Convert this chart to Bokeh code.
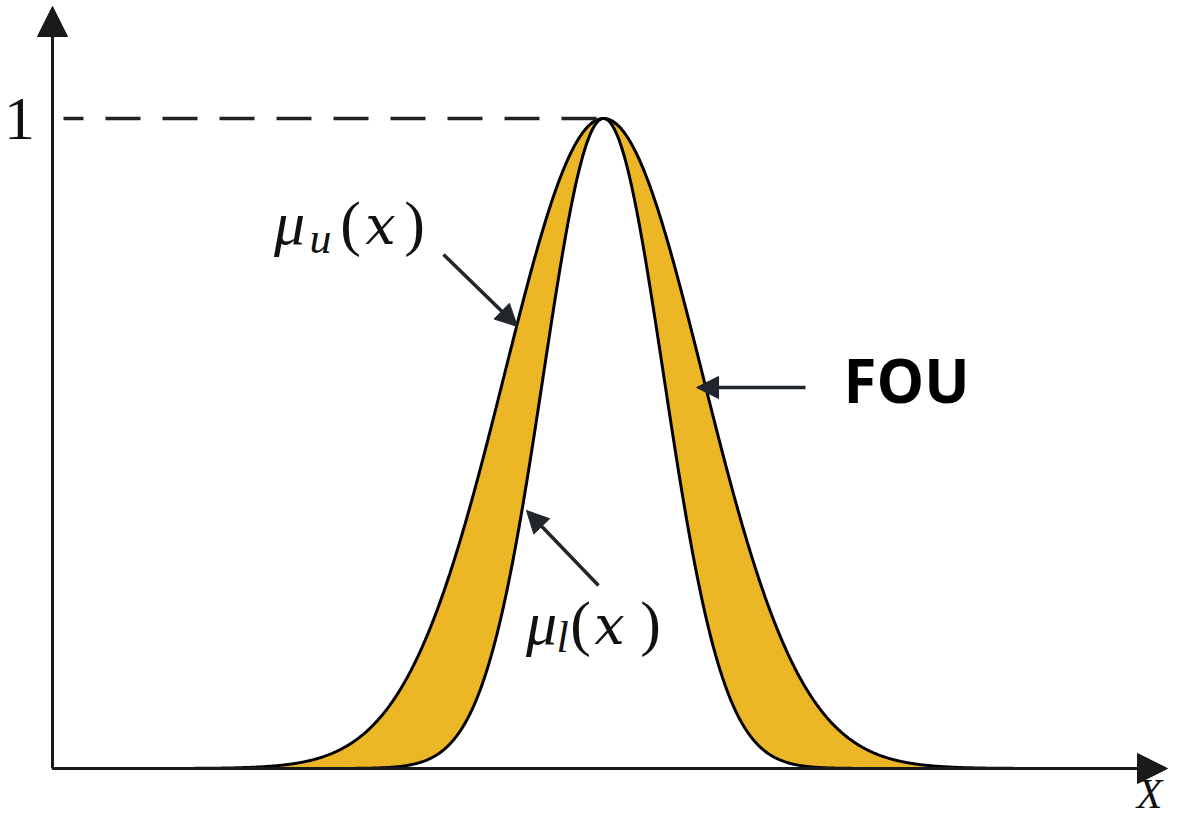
import numpy as np
from bokeh.plotting import figure
from bokeh.models import Range1d, Arrow, NormalHead, Label, ColumnDataSource
from bokeh.embed import file_html
from bokeh.resources import INLINE

# ---- chart values (Gaussian type-2 fuzzy membership functions) ----
MEAN = 5.51           # centre of both membership functions
SIGMA_UPPER = 0.99    # spread of the upper MF  mu_u(x)
SIGMA_LOWER = 0.60    # spread of the lower MF  mu_l(x)
PEAK = 1.0            # membership grade at the centre
X_END = 11.15         # end of the X axis
Y_TICK_VALUES = [1.0]
Y_TICK_LABELS = ["1"]
X_AXIS_LABEL = "X"
FOU_LABEL = "FOU"

# sampling of the domain
xs = np.linspace(0.0, X_END - 0.35, 1600)
upper = PEAK * np.exp(-((xs - MEAN) ** 2) / (2 * SIGMA_UPPER ** 2))
lower = PEAK * np.exp(-((xs - MEAN) ** 2) / (2 * SIGMA_LOWER ** 2))
src = ColumnDataSource(dict(x=xs, upper=upper, lower=lower))

# helpers: convert layout positions (pixels from top-left) to data units
def px(xr):
    return (xr - 52) / 100.0

def py(yr):
    return (768 - yr) / 650.0

W, H = 1169, 819
p = figure(width=W, height=H,
           x_range=Range1d(px(0), px(W)),
           y_range=Range1d(py(H), py(0)),
           output_backend="svg", toolbar_location=None,
           x_axis_location=None, y_axis_location=None,
           min_border=0, outline_line_color=None)
p.grid.visible = False
p.background_fill_color = "white"
p.border_fill_color = "white"

# footprint of uncertainty
p.varea(x="x", y1="lower", y2="upper", source=src,
        fill_color="#EAB31E", hatch_pattern="/", hatch_color="#F4C74A",
        hatch_alpha=0.35, hatch_scale=7, hatch_weight=1.5)
p.line(x="x", y="upper", source=src, line_color="black", line_width=3)
p.line(x="x", y="lower", source=src, line_color="black", line_width=3)

# dashed guide at membership 1
p.line(x=[px(63), MEAN], y=[Y_TICK_VALUES[0], Y_TICK_VALUES[0]],
       line_color="#222222", line_width=3.5, line_dash="35 22",
       line_dash_offset=15)

# axes as arrows
AX = "#1a1a1a"
p.add_layout(Arrow(end=NormalHead(size=30, fill_color=AX, line_color=AX),
                   x_start=0, y_start=0, x_end=0, y_end=py(6),
                   line_color=AX, line_width=3))
p.add_layout(Arrow(end=NormalHead(size=30, fill_color=AX, line_color=AX),
                   x_start=0, y_start=0, x_end=X_END, y_end=0,
                   line_color=AX, line_width=3))

# pointer arrows
AC = "#20262b"
def pointer(x0, y0, x1, y1):
    p.add_layout(Arrow(end=NormalHead(size=22, fill_color=AC, line_color=AC),
                       x_start=px(x0), y_start=py(y0), x_end=px(x1), y_end=py(y1),
                       line_color=AC, line_width=3.5))

pointer(443, 254, 517, 326)   # to mu_u
pointer(598, 585, 526, 510)   # to mu_l
pointer(805, 387, 696, 387)   # FOU

SERIF = "Liberation Serif"
def lab(xr, yr, text, size, style="normal", font=SERIF, align="center", color="#111111"):
    # yr is the wanted baseline; compensate for the label's baseline placement
    yb = yr - 0.4 * size
    p.add_layout(Label(x=px(xr), y=py(yb), text=text, text_font=font,
                       text_font_size=f"{size}px", text_font_style=style,
                       text_align=align, text_baseline="alphabetic",
                       text_color=color))

# tick label "1"
lab(19, 143, Y_TICK_LABELS[0], 62)
# axis label X
lab(1162, 810, X_AXIS_LABEL, 42, style="italic", align="right")

# mu_u(x)
lab(289, 247, "μ", 62, "italic")
lab(320, 256, "u", 44, "italic")
lab(350, 247, "(", 62)
lab(380, 247, "x", 54, "italic", font="DejaVu Serif")
lab(414, 247, ")", 62)

# mu_l(x)
lab(541, 647, "μ", 62, "italic")
lab(562, 655, "l", 44, "italic")
lab(580, 647, "(", 62)
lab(609, 647, "x", 54, "italic", font="DejaVu Serif")
lab(650, 647, ")", 62)

# FOU
lab(843, 403, FOU_LABEL, 60, "bold", font="Open Sans", align="left", color="#000000")

open("out.html", "w").write(file_html(p, INLINE))
